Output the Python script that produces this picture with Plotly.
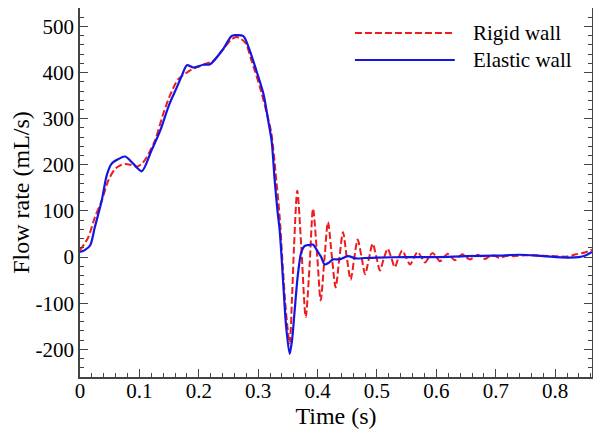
import plotly.graph_objects as go

# time (s) and flow rate (mL/s)
t_elastic = [0, 0.008, 0.017, 0.025, 0.0365, 0.045, 0.053, 0.064, 0.076, 0.09,
             0.104, 0.12, 0.135, 0.15, 0.163, 0.172, 0.18, 0.191, 0.2076, 0.219,
             0.241, 0.255, 0.261, 0.275, 0.283, 0.297, 0.309, 0.317, 0.3228, 0.3278,
             0.3325, 0.3362, 0.3418, 0.347, 0.353, 0.357, 0.361, 0.367, 0.3726, 0.378,
             0.385, 0.392, 0.4007, 0.406, 0.412, 0.419, 0.426, 0.437, 0.451, 0.465,
             0.48, 0.50, 0.55, 0.60, 0.65, 0.70, 0.74, 0.78, 0.82, 0.84, 0.85, 0.862]
q_elastic = [11, 15, 25, 65, 122, 177, 202, 212, 218, 202,
             186, 230, 274, 330, 368, 395, 416, 411, 417, 418,
             451, 479, 481, 479, 458, 404, 353, 295, 250, 166,
             100, 58, -50, -150, -210, -180, -122, -36, 11, 24,
             26, 27, 11, 0, -16, -12, -5, -5, 2, -3,
             -2, -1, 0, 0, 2, 3, 5, 2, -1, 0, 3, 11]

t_rigid = [0, 0.007, 0.014, 0.025, 0.0365, 0.0477, 0.059, 0.068, 0.076, 0.085,
           0.095, 0.104, 0.112, 0.126, 0.14, 0.152, 0.165, 0.18, 0.19, 0.202,
           0.213, 0.224, 0.239, 0.255, 0.264, 0.278, 0.289, 0.303, 0.314, 0.322,
           0.3305, 0.336, 0.3418, 0.347, 0.353, 0.357, 0.3603, 0.3658, 0.3726, 0.380,
           0.3867, 0.3923, 0.3995, 0.4052, 0.4115, 0.4175, 0.424, 0.4304, 0.4366, 0.4428,
           0.449, 0.4557, 0.4615, 0.4675, 0.474, 0.48, 0.4865, 0.4927, 0.499, 0.505,
           0.5115, 0.518, 0.524, 0.53, 0.536, 0.5426, 0.549, 0.5556, 0.562, 0.5685,
           0.575, 0.581, 0.587, 0.5937, 0.600, 0.606, 0.6125, 0.619, 0.625, 0.631,
           0.6375, 0.644, 0.650, 0.657, 0.6635, 0.670, 0.676, 0.682, 0.6885, 0.695,
           0.701, 0.707, 0.7135, 0.720, 0.73, 0.75, 0.78, 0.80, 0.82, 0.835,
           0.85, 0.862]
q_rigid = [15, 28, 43, 86, 122, 166, 191, 199, 202, 200,
           196, 202, 216, 252, 310, 352, 385, 400, 408, 414,
           420, 425, 447, 472, 477, 465, 425, 368, 314, 270,
           166, 90, -29, -122, -187, -86, 22, 144, 22, -130,
           -14, 105, 0, -94, -5, 76, 2, -66, -3, 54,
           1, -49, -4, 38, 0, -37, -3, 29, 0, -29,
           -3, 18, -1, -22, -2, 14, -1, -16, -2, 11,
           -1, -12, -1, 9, 0, -9, -1, 7, 0, -7,
           0, 6, 0, -5, 0, 5, 0, -4, 1, 4,
           1, -2, 1, 3, 2, 4, 3, 2, 1, 6,
           10, 16]

x_ticks = [0, 0.1, 0.2, 0.3, 0.4, 0.5, 0.6, 0.7, 0.8]
x_labels = ["0", "0.1", "0.2", "0.3", "0.4", "0.5", "0.6", "0.7", "0.8"]
y_ticks = [-200, -100, 0, 100, 200, 300, 400, 500]
y_labels = ["-200", "-100", "0", "100", "200", "300", "400", "500"]

RED = "#ee1c1c"
BLUE = "#1515e0"
AXIS = "#444444"
FONT = "'Liberation Serif', 'Times New Roman', serif"

fig = go.Figure()
fig.add_trace(go.Scatter(x=t_rigid, y=q_rigid, mode="lines", name="Rigid wall",
                         line=dict(color=RED, width=2, dash="7px,3px",
                                   shape="spline", smoothing=0.8)))
fig.add_trace(go.Scatter(x=t_elastic, y=q_elastic, mode="lines", name="Elastic wall",
                         line=dict(color=BLUE, width=2.2, shape="spline", smoothing=0.8)))

axis_common = dict(
    showgrid=False, zeroline=False, showline=True, linecolor=AXIS, linewidth=1.5,
    ticks="inside", ticklen=8, tickwidth=1.2, tickcolor=AXIS, automargin=False,
    tickfont=dict(family=FONT, size=21, color="black"),
)

# the page body keeps its 8px margin, so the figure is 8px smaller than the window
fig.update_layout(
    width=593, height=425,
    margin=dict(l=72, r=9, t=0, b=56),
    paper_bgcolor="white", plot_bgcolor="white",
    showlegend=False,
    font=dict(family=FONT, color="black"),
    xaxis=dict(axis_common, range=[0, 0.862], tickvals=x_ticks, ticktext=x_labels,
               mirror=True, ticklabelstandoff=-6,
               minor=dict(dtick=0.02, ticks="inside", ticklen=4, tickcolor=AXIS),
               title=dict(text="Time (s)", font=dict(family=FONT, size=24), standoff=0)),
    yaxis=dict(axis_common, range=[-260, 540], tickvals=y_ticks, ticktext=y_labels,
               mirror="ticks",
               minor=dict(dtick=20, ticks="inside", ticklen=4, tickcolor=AXIS),
               title=dict(text="Flow rate (mL/s)", font=dict(family=FONT, size=24))),
)

# hand-drawn legend with long line samples like the original
legend_rows = [("Rigid wall", RED, "7px,3px", 0.932), ("Elastic wall", BLUE, "solid", 0.859)]
for label, color, dash, yy in legend_rows:
    fig.add_shape(type="line", xref="paper", yref="paper", x0=0.537, x1=0.732, y0=yy, y1=yy,
                  line=dict(color=color, width=2, dash=dash))
    fig.add_annotation(xref="paper", yref="paper", x=0.764, y=yy, text=label,
                       showarrow=False, xanchor="left", yanchor="middle",
                       font=dict(family=FONT, size=21, color="black"))

fig.write_html("out.html")
